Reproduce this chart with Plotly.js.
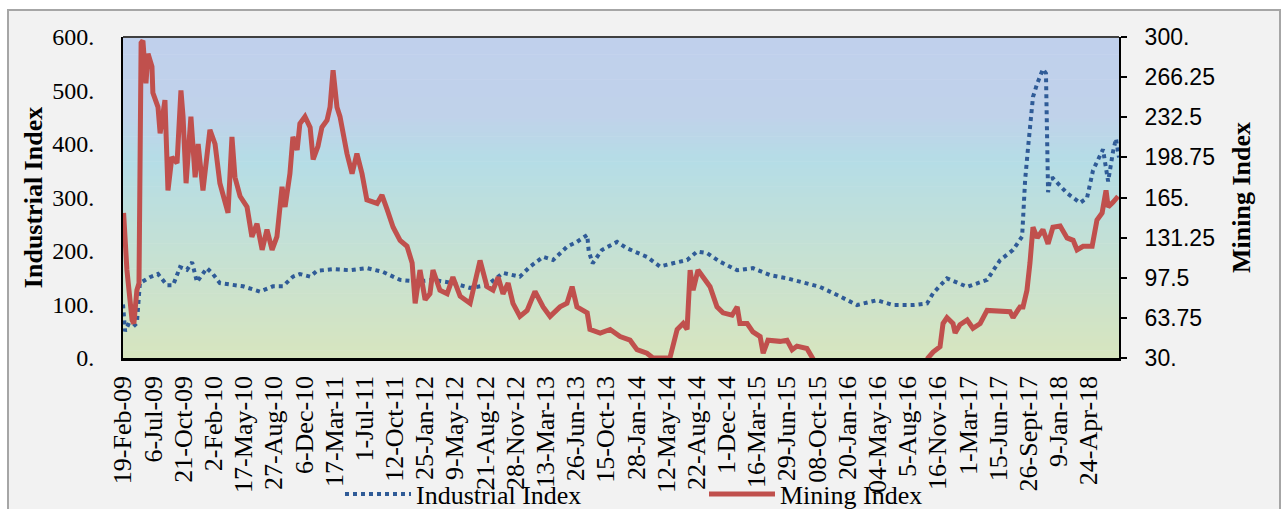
<!DOCTYPE html>
<html><head><meta charset="utf-8">
<script src="https://cdn.plot.ly/plotly-3.0.1.min.js"></script>
<style>html,body{margin:0;padding:0;background:#ffffff}</style>
</head><body>
<div id="chart" style="width:1285px;height:509px"></div>
<script>
// ---- Category tick labels (evenly spaced along the x axis) ----
const tickLabels = ["19-Feb-09","6-Jul-09","21-Oct-09","2-Feb-10","17-May-10","27-Aug-10","6-Dec-10","17-Mar-11","1-Jul-11","12-Oct-11","25-Jan-12","9-May-12","21-Aug-12","28-Nov-12","13-Mar-13","26-Jun-13","15-Oct-13","28-Jan-14","12-May-14","22-Aug-14","1-Dec-14","16-Mar-15","29-Jun-15","08-Oct-15","20-Jan-16","04-May-16","5-Aug-16","16-Nov-16","1-Mar-17","15-Jun-17","26-Sept-17","9-Jan-18","24-Apr-18"];

// ---- Industrial Index (left axis), x in tick-label units ----
const industrialX = [0,0.07,0.17,0.33,0.46,0.56,0.89,1.16,1.46,1.66,1.89,2.12,2.29,2.45,2.78,2.98,3.21,3.64,3.98,4.54,4.97,5.30,5.63,5.86,6.20,6.43,6.96,7.52,8.08,8.61,9.18,9.74,10.27,10.93,11.50,12.06,12.59,13.15,13.49,13.92,14.25,14.71,15.04,15.38,15.43,15.56,15.87,16.37,16.70,17.36,17.79,18.22,18.69,19.02,19.35,19.78,20.35,20.87,21.44,22.00,22.43,23.09,23.76,24.32,24.98,25.51,26.18,26.64,26.84,27.30,27.97,28.63,29.06,29.49,29.79,29.89,29.99,30.15,30.29,30.48,30.58,30.62,30.65,30.72,30.81,31.28,31.71,31.94,32.14,32.47,32.64,32.80,32.90,33.00];
const industrialY = [100,50,62,58,65,140,151,157,136,136,170,165,179,142,168,157,140,136,134,124,134,134,152,157,152,163,166,164,168,161,146,143,146,140,131,136,159,152,171,189,183,208,217,230,200,177,202,217,205,189,171,177,183,199,196,180,164,168,155,149,143,133,115,99,108,99,99,102,121,149,133,146,183,202,227,333,395,488,513,540,532,395,310,335,336,308,290,299,351,390,330,385,410,375];

// ---- Mining Index (right axis), x in tick-label units ----
const miningX = [0.02,0.13,0.30,0.36,0.46,0.53,0.60,0.66,0.76,0.83,0.96,0.99,1.16,1.23,1.39,1.49,1.62,1.79,1.92,1.99,2.09,2.25,2.39,2.49,2.65,2.88,3.05,3.21,3.48,3.61,3.71,3.88,4.11,4.27,4.44,4.61,4.77,4.94,5.10,5.27,5.37,5.53,5.63,5.77,5.86,6.03,6.20,6.30,6.46,6.59,6.76,6.86,6.96,7.09,7.19,7.42,7.59,7.75,7.92,8.08,8.42,8.58,8.75,8.95,9.18,9.41,9.58,9.68,9.84,10.01,10.17,10.27,10.50,10.74,10.93,11.17,11.50,11.83,12.06,12.26,12.43,12.59,12.76,12.92,13.15,13.39,13.65,13.92,14.15,14.48,14.71,14.88,15.04,15.38,15.47,15.81,16.14,16.47,16.80,17.03,17.36,17.56,18.12,18.36,18.56,18.69,18.79,18.89,19.05,19.22,19.45,19.68,19.88,20.18,20.35,20.44,20.68,20.87,21.11,21.21,21.37,21.77,22.00,22.17,22.33,22.66,22.86,23.03,26.57,26.67,26.84,27.07,27.17,27.30,27.50,27.57,27.73,27.97,28.16,28.40,28.63,28.83,29.39,29.49,29.72,29.82,29.95,30.05,30.15,30.29,30.48,30.65,30.81,31.05,31.28,31.48,31.61,31.81,32.11,32.27,32.44,32.57,32.64,32.80,32.97];
const miningY = [152,104,62,59,87,93,295,297,261,286,275,253,241,219,247,171,199,194,255,233,177,233,182,210,171,222,210,177,152,216,182,166,157,132,143,121,138,121,132,174,157,185,216,205,227,233,224,197,208,224,230,241,272,241,233,202,185,202,185,163,160,167,155,140,129,124,110,76,104,79,84,104,87,84,98,82,76,112,90,87,98,84,93,76,65,70,86,73,65,73,76,90,73,68,54,51,54,48,45,37,34,30,30,54,59,54,104,87,104,98,90,73,68,66,73,59,59,52,48,34,45,44,45,37,40,38,30,22,22,30,35,39.5,59,64,59,51,58,62,55,59,70,70,69,64,73,73,87,110,140,131,138,126,140,141,131,129,121,124,124,146,152,171,157,161,166];

// ---- Axis tick values / labels ----
const leftTickVals = [0,100,200,300,400,500,600];
const leftTickText = ["0.","100.","200.","300.","400.","500.","600."];
const rightTickVals = [30,63.75,97.5,131.25,165,198.75,232.5,266.25,300];
const rightTickText = ["30.","63.75","97.5","131.25","165.","198.75","232.5","266.25","300."];

// ---- Background gradient bands (style only) ----
const stops = [[0,[192,208,236]],[0.25,[192,210,234]],[0.39,[181,221,230]],[0.62,[194,224,215]],[1,[215,229,191]]];
function colAt(t){
  for(let i=1;i<stops.length;i++){
    if(t<=stops[i][0]){
      const a=stops[i-1], b=stops[i];
      const f=(t-a[0])/(b[0]-a[0]);
      const c=a[1].map((v,k)=>Math.round(v+(b[1][k]-v)*f));
      return 'rgb('+c.join(',')+')';
    }
  }
  return 'rgb('+stops[stops.length-1][1].join(',')+')';
}
const L=123, R=1119, T=37, B=358, W=1285, H=509;
const pw=R-L, ph=B-T;
const px=(x)=>(x-L)/pw, py=(y)=>(B-y)/ph;
const shapes=[];
shapes.push({type:'rect',xref:'paper',yref:'paper',x0:px(8),x1:px(1280),y0:py(520),y1:py(10),
  fillcolor:'#f2f2f2',line:{color:'#a6a6a6',width:2},layer:'below'});
const N=90;
for(let i=0;i<N;i++){
  const t=(i+0.5)/N;
  shapes.push({type:'rect',xref:'paper',yref:'paper',x0:0,x1:1,y0:1-(i+1)/N,y1:1-i/N+0.002,
    fillcolor:colAt(t),line:{width:0},layer:'below'});
}
shapes.push({type:'line',xref:'paper',yref:'paper',x0:0,x1:1,y0:1,y1:1,line:{color:'#404040',width:2}});

const traces=[
  {x:industrialX,y:industrialY,type:'scatter',mode:'lines',name:'Industrial Index',
   line:{color:'#2f5b97',width:4,dash:'4px,4px'},legend:'legend',hoverinfo:'skip'},
  {x:miningX,y:miningY,type:'scatter',mode:'lines',name:'Mining Index',yaxis:'y2',
   line:{color:'#c0504d',width:5},legend:'legend2',hoverinfo:'skip'}
];

const serif='"Liberation Serif", "Times New Roman", serif';
const layout={
  width:W,height:H,
  margin:{l:L,r:W-R,t:T,b:H-B,pad:0,autoexpand:false},
  paper_bgcolor:'#ffffff',plot_bgcolor:'rgba(0,0,0,0)',
  showlegend:true,
  xaxis:{range:[0,33],tickmode:'array',tickvals:tickLabels.map((_,i)=>i),ticktext:tickLabels,
    tickangle:-90,tickfont:{family:serif,size:26,color:'#000'},showgrid:false,zeroline:false,
    showline:true,linecolor:'#000',linewidth:2.5,ticks:'',ticklabelstandoff:5},
  yaxis:{range:[0,600],tickmode:'array',tickvals:leftTickVals,ticktext:leftTickText,
    tickfont:{family:serif,size:24,color:'#000'},showgrid:false,zeroline:false,
    showline:true,linecolor:'#000',linewidth:2,ticks:'',ticklabelstandoff:22,
    title:{text:'<b>Industrial Index</b>',font:{family:serif,size:26,color:'#000'},standoff:2}},
  yaxis2:{range:[30,300],overlaying:'y',side:'right',tickmode:'array',tickvals:rightTickVals,ticktext:rightTickText,
    tickfont:{family:'"Liberation Sans", Arial, sans-serif',size:23,color:'#000'},showgrid:false,zeroline:false,
    showline:true,linecolor:'#000',linewidth:2,ticks:'outside',ticklen:6,tickwidth:2,tickcolor:'#000',
    ticklabelstandoff:13,
    title:{text:'<b>Mining Index</b>',font:{family:serif,size:26,color:'#000'},standoff:18}},
  legend:{x:px(340),y:py(494),xanchor:'left',yanchor:'middle',orientation:'h',
    font:{family:serif,size:26,color:'#000'},bgcolor:'rgba(0,0,0,0)',itemwidth:66},
  legend2:{x:px(704),y:py(494),xanchor:'left',yanchor:'middle',orientation:'h',
    font:{family:serif,size:26,color:'#000'},bgcolor:'rgba(0,0,0,0)',itemwidth:66},
  shapes:shapes
};
Plotly.newPlot('chart',traces,layout,{displayModeBar:false,staticPlot:true});
</script>
</body></html>
